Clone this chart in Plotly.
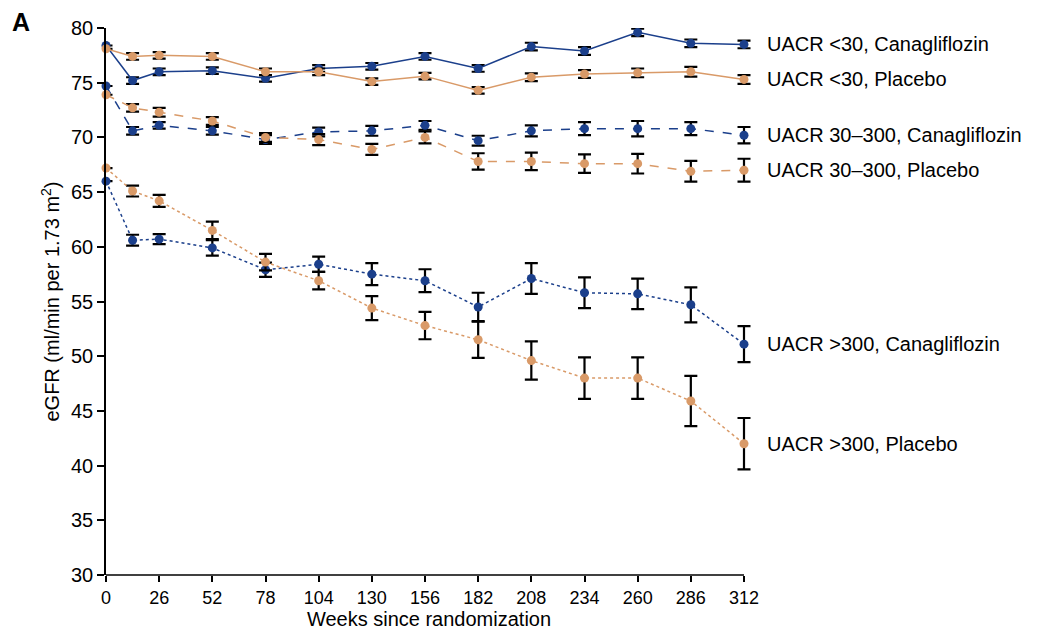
import plotly.graph_objects as go

weeks = [0, 13, 26, 52, 78, 104, 130, 156, 182, 208, 234, 260, 286, 312]

cana_lt30 = [78.4, 75.2, 76.0, 76.1, 75.4, 76.3, 76.5, 77.4, 76.3, 78.3, 77.9, 79.6, 78.6, 78.5]
cana_lt30_err = [0.0, 0.3, 0.3, 0.3, 0.3, 0.3, 0.3, 0.3, 0.3, 0.35, 0.35, 0.35, 0.35, 0.35]
plac_lt30 = [78.1, 77.4, 77.5, 77.4, 76.0, 76.0, 75.1, 75.6, 74.3, 75.5, 75.8, 75.9, 76.0, 75.3]
plac_lt30_err = [0.0, 0.3, 0.3, 0.3, 0.3, 0.3, 0.3, 0.3, 0.3, 0.35, 0.35, 0.4, 0.45, 0.4]

cana_mid = [74.7, 70.6, 71.1, 70.6, 69.8, 70.5, 70.6, 71.1, 69.7, 70.6, 70.8, 70.8, 70.8, 70.2]
cana_mid_err = [0.0, 0.35, 0.3, 0.35, 0.4, 0.4, 0.45, 0.4, 0.45, 0.5, 0.6, 0.7, 0.6, 0.75]
plac_mid = [73.9, 72.7, 72.3, 71.5, 70.0, 69.8, 68.9, 70.0, 67.8, 67.8, 67.6, 67.6, 66.9, 67.0]
plac_mid_err = [0.0, 0.35, 0.4, 0.35, 0.4, 0.5, 0.5, 0.55, 0.75, 0.8, 0.85, 0.9, 0.95, 1.05]

cana_gt300 = [66.0, 60.6, 60.7, 59.9, 57.9, 58.4, 57.5, 56.9, 54.5, 57.1, 55.8, 55.7, 54.7, 51.1]
cana_gt300_err = [0.0, 0.5, 0.45, 0.7, 0.65, 0.7, 1.0, 1.05, 1.3, 1.4, 1.4, 1.4, 1.6, 1.65]
plac_gt300 = [67.2, 65.1, 64.2, 61.5, 58.6, 56.9, 54.4, 52.8, 51.5, 49.6, 48.0, 48.0, 45.9, 42.0]
plac_gt300_err = [0.0, 0.5, 0.55, 0.8, 0.75, 0.8, 1.1, 1.25, 1.65, 1.75, 1.9, 1.9, 2.3, 2.35]

series_names = [
    "UACR <30, Canagliflozin",
    "UACR <30, Placebo",
    "UACR 30–300, Canagliflozin",
    "UACR 30–300, Placebo",
    "UACR >300, Canagliflozin",
    "UACR >300, Placebo",
]

x_ticks = [0, 26, 52, 78, 104, 130, 156, 182, 208, 234, 260, 286, 312]
y_ticks = [30, 35, 40, 45, 50, 55, 60, 65, 70, 75, 80]

BLUE = "#1b3f8b"
ORANGE = "#d99a68"

series = [
    (cana_lt30, cana_lt30_err, BLUE, "solid"),
    (plac_lt30, plac_lt30_err, ORANGE, "solid"),
    (cana_mid, cana_mid_err, BLUE, "dash"),
    (plac_mid, plac_mid_err, ORANGE, "dash"),
    (cana_gt300, cana_gt300_err, BLUE, "dot"),
    (plac_gt300, plac_gt300_err, ORANGE, "dot"),
]

# layout geometry: x=0 at px 106, x=312 at px 744, a few px of room past 312 for caps
L = 106
PLOT_W = 646
X_END = x_ticks[-1]
x_max = X_END * PLOT_W / 638.0

fig = go.Figure()
for (vals, errs, col, dash), name in zip(series, series_names):
    fig.add_trace(go.Scatter(
        x=weeks, y=vals, name=name, mode="lines+markers",
        line=dict(color=col, width=1.5, dash=dash),
        marker=dict(color=col, size=9),
        error_y=dict(type="data", array=errs, visible=True, color="black",
                     thickness=2.2, width=6.5),
        cliponaxis=False, showlegend=False,
    ))
    fig.add_annotation(x=X_END, y=vals[-1], text=name, showarrow=False,
                       xanchor="left", yanchor="middle", xshift=21,
                       font=dict(family="Liberation Sans, Arial", size=20, color="black"))

fig.add_annotation(x=0, y=1, xref="paper", yref="paper", text="<b>A</b>",
                   showarrow=False, xanchor="left", yanchor="top",
                   xshift=-96, yshift=22,
                   font=dict(family="Liberation Sans, Arial", size=25, color="black"))

# x axis baseline from 0 to 312 only
fig.add_shape(type="line", xref="x", yref="paper", x0=0, x1=X_END, y0=0, y1=0,
              line=dict(color="black", width=1.5), layer="above")

fig.update_layout(
    width=1049, height=640,
    margin=dict(l=L, r=1049 - L - PLOT_W, t=28, b=65),
    paper_bgcolor="white", plot_bgcolor="white",
    font=dict(family="Liberation Sans, Arial", color="black"),
)
fig.update_xaxes(
    range=[0, x_max], tickvals=x_ticks, ticktext=[str(t) for t in x_ticks],
    showgrid=False, zeroline=False, showline=False,
    ticks="outside", ticklen=6, tickcolor="black", tickwidth=1.5,
    tickfont=dict(family="Liberation Sans Narrow, Arial Narrow, Liberation Sans", size=18),
    title=dict(text="Weeks since randomization", standoff=3,
               font=dict(family="Liberation Sans Narrow, Arial Narrow, Liberation Sans", size=20)),
)
fig.update_yaxes(
    range=[30, 80], tickvals=y_ticks,
    showgrid=False, zeroline=False, showline=True, linecolor="black", linewidth=1.5,
    ticks="outside", ticklen=7, tickcolor="black", tickwidth=1.5,
    tickfont=dict(family="Liberation Sans, Arial", size=20),
    title=dict(text="eGFR (ml/min per 1.73 m<sup>2</sup>)", standoff=6,
               font=dict(family="Liberation Sans Narrow, Arial Narrow, Liberation Sans", size=20)),
)

fig.write_html("out.html")
